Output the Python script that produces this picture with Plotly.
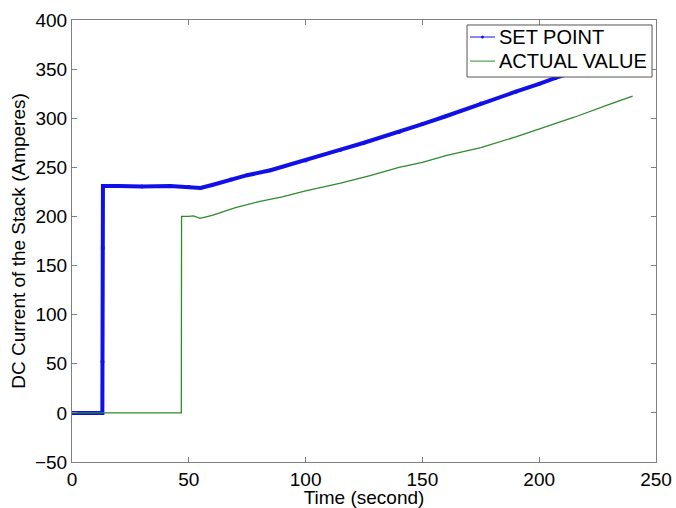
import plotly.graph_objects as go

# Set point command for the stack current (time in s, current in A)
set_time = [0, 5, 10, 13, 13.05, 13.15, 13.25, 20, 30, 42, 50, 55, 60, 68, 75, 85,
            100, 115, 125, 140, 150, 160, 175, 190, 200, 207, 220, 240]
set_value = [0, 0, 0, 0, 52, 168, 231, 231, 230.5, 231, 230, 229, 232, 237.5, 242, 247,
             257, 268, 275, 286, 294, 302, 315, 327, 335, 341, 351, 368]

# Measured stack current
act_time = [0, 20, 40, 46.8, 46.85, 46.9, 50, 52, 54.8, 60, 70, 80, 90, 100, 115,
            127.6, 140, 150, 160, 175, 190, 200, 215, 230, 240]
act_value = [0, 0, 0, 0, 100, 200, 200, 200.5, 198, 201, 209, 215, 220, 226, 234,
             241.5, 250, 255, 262, 270, 281, 289, 301, 314, 322.5]

series_names = ["SET POINT", "ACTUAL VALUE"]

x_ticks = [0, 50, 100, 150, 200, 250]
y_ticks = [-50, 0, 50, 100, 150, 200, 250, 300, 350, 400]

BLUE = "#1010e8"
GREEN = "#2e8b2e"
AXIS = "#7f7f7f"
FONT = "Liberation Sans, Arial, sans-serif"
FS = 19

fig = go.Figure()

fig.add_trace(go.Scatter(
    x=set_time, y=set_value, mode="lines+markers", name=series_names[0],
    line=dict(color=BLUE, width=4), marker=dict(color=BLUE, size=4),
    showlegend=False))
fig.add_trace(go.Scatter(
    x=act_time, y=act_value, mode="lines", name=series_names[1],
    line=dict(color=GREEN, width=1.3),
    showlegend=False))

axis_common = dict(
    showline=True, linecolor=AXIS, linewidth=1, mirror="ticks",
    ticks="inside", ticklen=5, tickcolor=AXIS, showgrid=False, zeroline=False,
    automargin=False,
    tickfont=dict(family=FONT, size=FS, color="#000"),
)

fig.update_xaxes(range=[0, 250], tickvals=x_ticks,
                 title=dict(text="Time (second)", font=dict(family=FONT, size=FS, color="#000"),
                            standoff=0),
                 **axis_common)
fig.update_yaxes(range=[-50, 400], tickvals=y_ticks,
                 title=dict(text="DC Current of the Stack (Amperes)",
                            font=dict(family=FONT, size=FS, color="#000"), standoff=4),
                 **axis_common)

# Boxed legend in the upper-right corner, opaque over the curves
box_x0, box_x1 = 0.6764, 0.9932
box_y0, box_y1 = 0.871, 0.9887
row_y = [0.9615, 0.907]
swatch_x0, swatch_x1 = 0.6815, 0.7243
text_x = 0.7277
colors = [BLUE, GREEN]

shapes = [dict(type="rect", xref="paper", yref="paper",
               x0=box_x0, x1=box_x1, y0=box_y0, y1=box_y1,
               fillcolor="white", line=dict(color="#555", width=1), layer="above")]
annotations = []
for name, col, yy in zip(series_names, colors, row_y):
    shapes.append(dict(type="line", xref="paper", yref="paper",
                       x0=swatch_x0, x1=swatch_x1, y0=yy, y1=yy,
                       line=dict(color=col, width=1), layer="above"))
    annotations.append(dict(xref="paper", yref="paper", x=text_x, y=yy,
                            xanchor="left", yanchor="middle", showarrow=False,
                            text=name, font=dict(family=FONT, size=20, color="#000")))
# dot marker on the set-point swatch
mx = (swatch_x0 + swatch_x1) / 2
shapes.append(dict(type="circle", xref="paper", yref="paper",
                   x0=mx - 0.0025, x1=mx + 0.0025, y0=row_y[0] - 0.0035, y1=row_y[0] + 0.0035,
                   fillcolor=BLUE, line=dict(color=BLUE, width=0), layer="above"))

fig.update_layout(
    width=676, height=508,
    margin=dict(l=72, r=20, t=20, b=46),
    paper_bgcolor="white", plot_bgcolor="white",
    font=dict(family=FONT, size=FS, color="#000"),
    showlegend=False,
    shapes=shapes, annotations=annotations,
)

fig.write_html("out.html")
